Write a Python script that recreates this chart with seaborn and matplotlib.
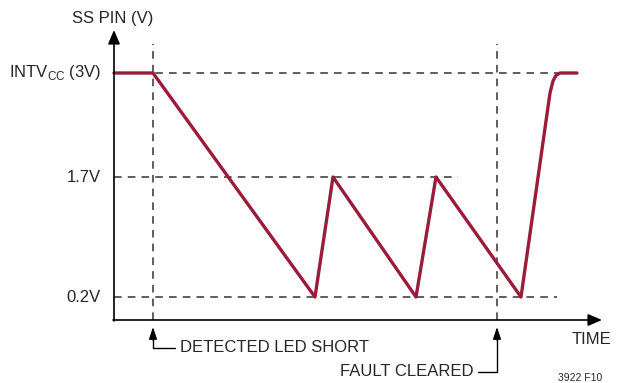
import matplotlib
matplotlib.use("Agg")
import matplotlib.pyplot as plt
import seaborn as sns
import pandas as pd
from matplotlib import font_manager

sns.set_theme(style="white")
names = {f.name for f in font_manager.fontManager.ttflist}
fam = "Liberation Sans Narrow" if "Liberation Sans Narrow" in names else "Liberation Sans"
plt.rcParams["font.family"] = [fam, "DejaVu Sans"]

# SS pin waveform (time in arbitrary units, voltage in V)
time = [114, 153, 315, 333, 416, 436, 521, 550, 553, 556, 560, 577]
ss_volts = [3.0, 3.0, 0.2, 1.7, 0.2, 1.7, 0.2, 2.75, 2.9, 2.97, 3.0, 3.0]

levels = [3.0, 1.7, 0.2]
level_labels = ["INTV$_{\\mathregular{CC}}$ (3V)", "1.7V", "0.2V"]
level_ends = [572, 458, 557]
events = [153, 497]

def v(py):
    return (313 - py) / 80.0

df = pd.DataFrame({"t": time, "v": ss_volts})

fig = plt.figure(figsize=(6.2, 3.83), dpi=100)
ax = fig.add_axes([0, 0, 1, 1])
ax.set_xlim(0, 620)
ax.set_ylim(v(383), v(0))
ax.axis("off")

dash = dict(color="#333333", lw=1.1, ls=(0, (5, 4)))
for lv, end in zip(levels, level_ends):
    ax.plot([114, end], [lv, lv], **dash)
for ev in events:
    ax.plot([ev, ev], [v(320), v(44)], **dash)

sns.lineplot(data=df, x="t", y="v", ax=ax, color="#9B1B3A", lw=2.4,
             sort=False, estimator=None, legend=False)

# axes with arrowheads
ax.annotate("", xy=(114, v(30)), xytext=(114, v(321)),
            arrowprops=dict(arrowstyle="-|>,head_length=0.7,head_width=0.3",
                            color="black", lw=1.2, shrinkA=0, shrinkB=0))
ax.annotate("", xy=(602, v(320)), xytext=(113, v(320)),
            arrowprops=dict(arrowstyle="-|>,head_length=0.7,head_width=0.3",
                            color="black", lw=1.2, shrinkA=0, shrinkB=0))

fs = 12
ax.text(113, v(18), "SS PIN (V)", ha="center", va="center", fontsize=fs)
for lv, lab in zip(levels, level_labels):
    ax.text(101, lv, lab, ha="right", va="center", fontsize=fs)
ax.text(592, v(340), "TIME", ha="center", va="center", fontsize=fs)
ax.text(580, v(378), "3922 F10", ha="center", va="center", fontsize=7.5)

# event callouts
ax.plot([153, 153, 175], [v(336), v(348), v(348)], color="black", lw=1.0)
ax.annotate("", xy=(153, v(327)), xytext=(153, v(340)),
            arrowprops=dict(arrowstyle="-|>,head_length=0.6,head_width=0.2",
                            color="black", lw=1.0, shrinkA=0, shrinkB=0))
ax.text(180, v(348), "DETECTED LED SHORT", ha="left", va="center", fontsize=fs)

ax.plot([497, 497, 478], [v(336), v(372), v(372)], color="black", lw=1.0)
ax.annotate("", xy=(497, v(327)), xytext=(497, v(340)),
            arrowprops=dict(arrowstyle="-|>,head_length=0.6,head_width=0.2",
                            color="black", lw=1.0, shrinkA=0, shrinkB=0))
ax.text(474, v(372), "FAULT CLEARED", ha="right", va="center", fontsize=fs)

fig.savefig("out.png", dpi=100)
